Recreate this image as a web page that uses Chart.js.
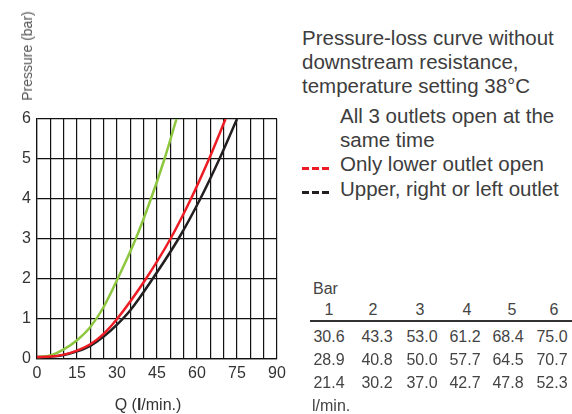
<!DOCTYPE html>
<html>
<head>
<meta charset="utf-8">
<script src="https://cdn.jsdelivr.net/npm/chart.js@4.4.1/dist/chart.umd.min.js"></script>
<style>
  body { margin: 0; background: #fff; width: 572px; height: 414px; overflow: hidden; position: relative;
         font-family: "Liberation Sans", Arial, sans-serif; }
  #chart { position: absolute; left: 0; top: 0; }
  .yTitle { position: absolute; left: 27px; top: 56px; transform: translate(-50%, -50%) rotate(-90deg);
            font-size: 14px; color: #555; white-space: nowrap; }
  .xTitle { position: absolute; left: 148px; top: 395px; transform: translateX(-50%);
            font-size: 16px; line-height: 20px; color: #333; white-space: nowrap; }
  .note { position: absolute; left: 302px; top: 26px; font-size: 20.5px; line-height: 24px; color: #3d3d3d; white-space: nowrap; }
  .key { position: absolute; left: 340px; font-size: 20.5px; line-height: 24px; color: #3d3d3d; white-space: nowrap; }
  .dashes { position: absolute; left: 302px; width: 28px; height: 2.5px; }
  .dashes i { position: absolute; top: 0; width: 7px; height: 2.5px; }
  .cell { position: absolute; font-size: 16px; line-height: 20px; color: #444; white-space: nowrap; transform: translateX(-50%); }
  .lbl { position: absolute; font-size: 16px; line-height: 20px; color: #444; }
  .rule { position: absolute; left: 310px; width: 262px; top: 320px; height: 1.5px; background: #333; }
</style>
</head>
<body>
<canvas id="chart" width="300" height="414"></canvas>
<div class="yTitle">Pressure (bar)</div>
<div class="xTitle">Q (<b>l</b>/min.)</div>
<div class="note">Pressure-loss curve without<br>downstream resistance,<br>temperature setting 38°C</div>
<div class="key" style="top:104px">All 3 outlets open at the<br>same time</div>
<div class="key" style="top:152px">Only lower outlet open</div>
<div class="key" style="top:176.5px">Upper, right or left outlet</div>
<div class="dashes" style="top:167px"><i style="left:0;background:#ed1c24"></i><i style="left:10px;background:#ed1c24"></i><i style="left:20px;background:#ed1c24"></i></div>
<div class="dashes" style="top:191px"><i style="left:0;background:#231f20"></i><i style="left:10px;background:#231f20"></i><i style="left:20px;background:#231f20"></i></div>
<div class="lbl" style="left:313px;top:279px">Bar</div>
<div class="rule"></div>
<div class="lbl" style="left:312px;top:396px">l/min.</div>
<div id="table"></div>
<script>
// table values (Q in l/min. at each pressure)
const pressureBar = [1, 2, 3, 4, 5, 6];
const flowUpperRightLeft = [30.6, 43.3, 53.0, 61.2, 68.4, 75.0];
const flowLowerOnly = [28.9, 40.8, 50.0, 57.7, 64.5, 70.7];
const flowAllThree = [21.4, 30.2, 37.0, 42.7, 47.8, 52.3];

// curves as drawn on the plot
const curveQUpper = [0, 5, 10, 15, 20, 25, 30, 35, 43.3, 53.0, 61.2, 68.4, 75.0];
const curvePUpper = [0.05, 0.06, 0.1, 0.19, 0.33, 0.56, 0.86, 1.22, 2, 3, 4, 5, 6];
const curveQLower = [0, 5, 10, 15, 20, 25, 30, 40.8, 50.0, 57.7, 64.5, 70.7];
const curvePLower = [0.05, 0.06, 0.11, 0.21, 0.37, 0.63, 1.0, 2, 3, 4, 5, 6];
const curveQAll = [0, 5, 10, 15, 20, 25, 30.2, 37.0, 42.7, 47.8, 52.3];
const curvePAll = [0.05, 0.09, 0.24, 0.47, 0.8, 1.3, 2, 3, 4, 5, 6];

const xTickLabels = [0, 15, 30, 45, 60, 75, 90];
const yTickLabels = [0, 1, 2, 3, 4, 5, 6];

function points(qs, ps) {
  return qs.map(function (q, i) { return { x: q, y: ps[i] }; });
}

// table on the right
var colHead = [329, 373, 420, 467, 512, 554];
var colVal = [329, 377, 422, 465, 508, 552];
var rowTop = [327, 350, 373];
var html = "";
pressureBar.forEach(function (p, i) {
  html += '<div class="cell" style="left:' + colHead[i] + 'px;top:300px">' + p + '</div>';
});
[flowUpperRightLeft, flowLowerOnly, flowAllThree].forEach(function (row, r) {
  row.forEach(function (v, i) {
    html += '<div class="cell" style="left:' + colVal[i] + 'px;top:' + rowTop[r] + 'px">' + v.toFixed(1) + '</div>';
  });
});
document.getElementById("table").innerHTML = html;

var tickFont = { family: "Liberation Sans, Arial, sans-serif", size: 16 };

new Chart(document.getElementById("chart"), {
  type: "line",
  data: {
    datasets: [
      { label: "Only lower outlet open", data: points(curveQLower, curvePLower), borderColor: "#ed1c24" },
      { label: "All 3 outlets open at the same time", data: points(curveQAll, curvePAll), borderColor: "#8dc63f" },
      { label: "Upper, right or left outlet", data: points(curveQUpper, curvePUpper), borderColor: "#231f20" },
    ],
  },
  options: {
    responsive: false,
    animation: false,
    layout: { padding: { top: 119, right: 23, left: 0, bottom: 0 } },
    plugins: { legend: { display: false }, tooltip: { enabled: false } },
    elements: {
      point: { radius: 0 },
      line: { borderWidth: 2.5, cubicInterpolationMode: "monotone", fill: false },
    },
    scales: {
      x: {
        type: "linear", min: 0, max: 90,
        afterFit: function (s) { s.height = 55; },
        ticks: {
          stepSize: 5, autoSkip: false, maxRotation: 0, padding: 5, color: "#333", font: tickFont,
          callback: function (v) { return xTickLabels.includes(v) ? v : ""; },
        },
        grid: { color: "#111", lineWidth: 1.2, drawTicks: false },
        border: { color: "#111", width: 1.2 },
      },
      y: {
        min: 0, max: 6,
        afterFit: function (s) { s.width = 37; },
        ticks: {
          stepSize: 0.5, padding: 6, color: "#333", font: tickFont,
          callback: function (v) { return yTickLabels.includes(v) ? v : ""; },
        },
        grid: { color: "#111", lineWidth: 1.2, drawTicks: false },
        border: { color: "#111", width: 1.2 },
      },
    },
  },
});
</script>
</body>
</html>
